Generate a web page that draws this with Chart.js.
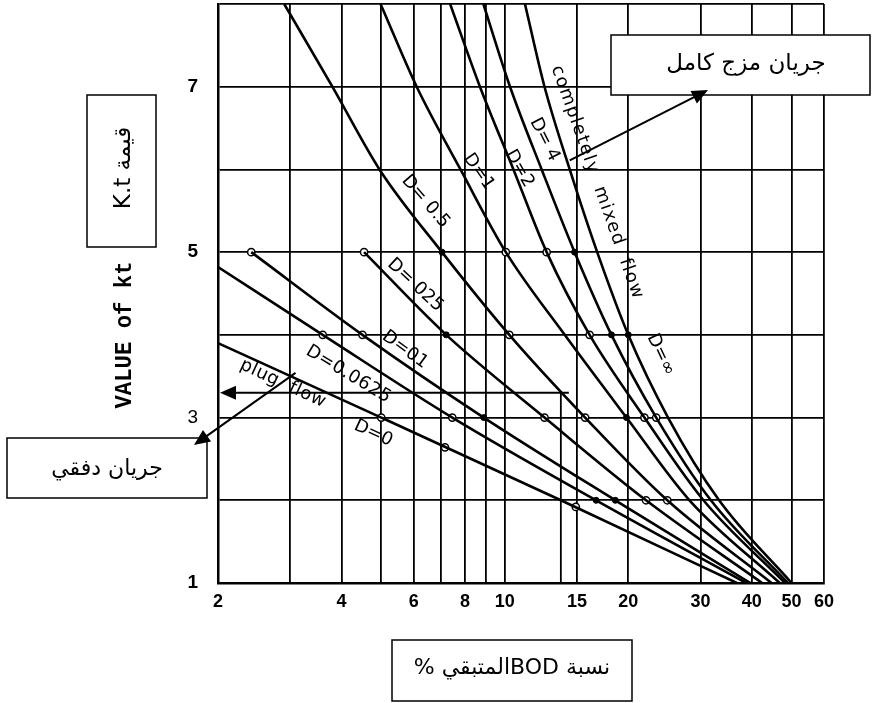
<!DOCTYPE html>
<html>
<head>
<meta charset="utf-8">
<script src="https://cdn.jsdelivr.net/npm/chart.js@4/dist/chart.umd.min.js"></script>
<style>
  html, body { margin: 0; padding: 0; background: #fff; }
  canvas { display: block; }
</style>
</head>
<body>
<canvas id="chart" width="876" height="703"></canvas>
<script>
// BOD remaining (%) on a log axis against kt, for dispersion numbers D = 0 ... infinity

// axis ticks
const xGridValues = [2, 3, 4, 5, 6, 7, 8, 9, 10, 15, 20, 30, 40, 50, 60];
const xTickLabels = [2, 4, 6, 8, 10, 15, 20, 30, 40, 50, 60];
const yTickLabels = [1, 3, 5, 7];

// series: kt values and the matching percent of BOD remaining
const seriesNames = ['D=0', 'D=0.0625', 'D=0.1', 'D=0.25', 'D=0.5', 'D=1', 'D=2', 'D=4', 'D=inf'];

const ktD0 = [3.9, 3, 2, 1];
const pctD0 = [2.0, 5.0, 13.7, 36.8];

const ktD00625 = [4.82, 4, 3, 2, 1];
const pctD00625 = [2.0, 3.6, 7.45, 16.7, 38.8];

const ktD01 = [5, 4, 3, 2, 1];
const pctD01 = [2.41, 4.5, 8.89, 18.6, 39.7];

const ktD025 = [5, 4, 3, 2, 1];
const pctD025 = [4.54, 7.2, 12.5, 22.1, 42.4];

const ktFull = [8, 7, 6, 5, 4, 3, 2, 1];
const pctD05 = [2.9, 3.8, 4.95, 7.03, 10.26, 15.7, 24.9, 44.7];
const pctD1 = [4.98, 6.1, 7.8, 10.06, 14.0, 19.8, 28.2, 46.8];
const pctD2 = [7.36, 8.7, 10.5, 12.65, 16.1, 21.9, 30.5, 48.2];
const pctD4 = [8.87, 10.3, 12.3, 14.8, 18.2, 23.4, 31.8, 49.0];
const pctMixed = [11.2, 12.5, 14.4, 16.8, 20.0, 25.0, 33.3, 50.0];

// computed points marked on the curves
const openMarkPct = [2.41, 4.54, 10.06, 12.65, 3.6, 4.5, 10.26, 16.1, 5.0, 7.45, 12.5, 15.7, 21.9, 23.4, 7.15, 14.9, 22.1, 24.9];
const openMarkKt  = [5, 5, 5, 5, 4, 4, 4, 4, 3, 3, 3, 3, 3, 3, 2.64, 1.92, 2, 2];
const solidMarkPct = [7.03, 14.8, 7.2, 18.2, 20.0, 8.89, 19.8, 16.7, 18.6];
const solidMarkKt  = [5, 5, 4, 4, 4, 3, 3, 2, 2];

// worked reading: percent remaining and kt
const readingPct = [13.7];
const readingKt = [3.3];

const curveSeries = [
  [ktD0, pctD0], [ktD00625, pctD00625], [ktD01, pctD01], [ktD025, pctD025],
  [ktFull, pctD05], [ktFull, pctD1], [ktFull, pctD2], [ktFull, pctD4], [ktFull, pctMixed]
];

const toPoints = (pct, kt) => pct.map((p, i) => ({ x: p, y: kt[i] }));

const datasets = curveSeries.map(([kt, pct], i) => ({
  label: seriesNames[i],
  data: toPoints(pct, kt),
  showLine: true,
  borderColor: '#000',
  borderWidth: 2.6,
  pointRadius: 0,
  fill: false,
  cubicInterpolationMode: 'monotone'
}));
datasets.push({
  label: 'open marks',
  data: toPoints(openMarkPct, openMarkKt),
  showLine: false,
  pointRadius: 3.6,
  pointBackgroundColor: '#fff',
  pointBorderColor: '#000',
  pointBorderWidth: 1.5
});
datasets.push({
  label: 'solid marks',
  data: toPoints(solidMarkPct, solidMarkKt),
  showLine: false,
  pointRadius: 3,
  pointBackgroundColor: '#000',
  pointBorderColor: '#000',
  pointBorderWidth: 1
});

// text written along the curves (anchor in data units, angle in degrees)
const curveLabels = [
  { text: 'plug  flow', at: [2.88, 3.41], angle: 25, spacing: 0.5 },
  { text: 'D=0', at: [4.78, 2.81], angle: 25, spacing: 0 },
  { text: 'D=0.0625', at: [4.16, 3.52], angle: 31, spacing: 0.5 },
  { text: 'D=01', at: [5.71, 3.82], angle: 36, spacing: 0 },
  { text: 'D= 025', at: [6.05, 4.60], angle: 43, spacing: 0 },
  { text: 'D= 0.5', at: [6.41, 5.61], angle: 49, spacing: 0 },
  { text: 'D=1', at: [8.64, 5.97], angle: 55, spacing: 0 },
  { text: 'D=2', at: [10.86, 6.01], angle: 60, spacing: 0 },
  { text: 'D= 4', at: [12.5, 6.36], angle: 63, spacing: 0 },
  { text: 'completely  mixed  flow', at: [16.8, 5.84], angle: 70.5, spacing: 1.4 },
  { text: 'D=\u221E', at: [24.0, 3.76], angle: 65, spacing: 0 }
];

function drawArrow(ctx, x1, y1, x2, y2, len, half) {
  const a = Math.atan2(y2 - y1, x2 - x1);
  ctx.beginPath();
  ctx.moveTo(x1, y1);
  ctx.lineTo(x2 - Math.cos(a) * len * 0.8, y2 - Math.sin(a) * len * 0.8);
  ctx.stroke();
  ctx.beginPath();
  ctx.moveTo(x2, y2);
  ctx.lineTo(x2 - Math.cos(a) * len + Math.sin(a) * half, y2 - Math.sin(a) * len - Math.cos(a) * half);
  ctx.lineTo(x2 - Math.cos(a) * len - Math.sin(a) * half, y2 - Math.sin(a) * len + Math.cos(a) * half);
  ctx.closePath();
  ctx.fill();
}

const curveTextPlugin = {
  id: 'curveText',
  afterDatasetsDraw(chart) {
    const { ctx, scales: { x, y } } = chart;
    ctx.save();
    ctx.fillStyle = '#000';
    ctx.font = '18px "DejaVu Sans", sans-serif';
    ctx.textAlign = 'center';
    ctx.textBaseline = 'middle';
    curveLabels.forEach(l => {
      ctx.save();
      ctx.letterSpacing = l.spacing + 'px';
      ctx.translate(x.getPixelForValue(l.at[0]), y.getPixelForValue(l.at[1]));
      ctx.rotate(l.angle * Math.PI / 180);
      ctx.fillText(l.text, 0, 0);
      ctx.restore();
    });

    // worked reading: up from the x axis, then across to the kt axis
    const rx = x.getPixelForValue(readingPct[0]);
    const ry = y.getPixelForValue(readingKt[0]);
    ctx.strokeStyle = '#000';
    ctx.lineWidth = 1.8;
    ctx.beginPath();
    ctx.moveTo(rx, y.getPixelForValue(1));
    ctx.lineTo(rx, ry);
    ctx.stroke();
    drawArrow(ctx, rx + 8, ry, x.getPixelForValue(2) + 2, ry, 16, 7);
    ctx.restore();
  }
};

const calloutPlugin = {
  id: 'callouts',
  afterDraw(chart) {
    const { ctx, scales: { x, y } } = chart;
    ctx.save();
    ctx.strokeStyle = '#000';
    ctx.fillStyle = '#000';

    // boxes with Arabic notes
    const box = (l, t, r, b) => {
      ctx.fillStyle = '#fff';
      ctx.fillRect(l, t, r - l, b - t);
      ctx.lineWidth = 1.5;
      ctx.strokeRect(l, t, r - l, b - t);
      ctx.fillStyle = '#000';
    };
    ctx.textAlign = 'center';
    ctx.textBaseline = 'middle';
    ctx.direction = 'rtl';

    box(611, 35, 870, 95);
    ctx.font = '23px "DejaVu Sans", sans-serif';
    ctx.fillText('جريان مزج كامل', 746, 64);

    box(7, 438, 207, 498);
    ctx.font = '22px "DejaVu Sans", sans-serif';
    ctx.fillText('جريان دفقي', 107, 469);

    box(392, 640, 632, 701);
    ctx.fillText('نسبة BODالمتبقي %', 512, 668);

    box(87, 95, 156, 247);
    ctx.save();
    ctx.translate(124, 168);
    ctx.rotate(-Math.PI / 2);
    ctx.font = '23px "DejaVu Sans", sans-serif';
    ctx.fillText('قيمة K.t', 0, 0);
    ctx.restore();

    // axis title
    ctx.direction = 'ltr';
    ctx.save();
    ctx.translate(125, 335);
    ctx.rotate(-Math.PI / 2);
    ctx.font = 'bold 24px "Courier New", "Liberation Mono", monospace';
    ctx.fillText('VALUE of kt', 0, 0, 147);
    ctx.restore();

    // pointers from the notes to the curves
    ctx.lineWidth = 2;
    drawArrow(ctx, x.getPixelForValue(14.4), y.getPixelForValue(6.11), 708, 90, 16, 7);
    drawArrow(ctx, x.getPixelForValue(3.09), y.getPixelForValue(3.54), 194, 445, 16, 7);
    ctx.restore();
  }
};

const tickFont = { family: '"Liberation Sans", Arial, sans-serif', size: 18, weight: 'bold' };

new Chart(document.getElementById('chart'), {
  type: 'scatter',
  data: { datasets },
  options: {
    responsive: false,
    animation: false,
    layout: { autoPadding: false, padding: { left: 0, right: 52, top: 4, bottom: 0 } },
    plugins: { legend: { display: false }, tooltip: { enabled: false } },
    scales: {
      x: {
        type: 'logarithmic',
        min: 2,
        max: 60,
        afterBuildTicks: s => { s.ticks = xGridValues.map(v => ({ value: v })); },
        afterFit: s => { s.height = 120; s.paddingLeft = 0; s.paddingRight = 0; },
        ticks: {
          autoSkip: false,
          maxRotation: 0,
          padding: 8,
          color: '#000',
          font: tickFont,
          callback: v => (xTickLabels.includes(v) ? String(v) : '')
        },
        grid: { color: '#000', lineWidth: 1.8, drawTicks: false },
        border: { display: true, color: '#000', width: 2.5 }
      },
      y: {
        type: 'linear',
        min: 1,
        max: 8,
        afterFit: s => { s.width = 218; s.paddingTop = 0; s.paddingBottom = 0; },
        ticks: {
          stepSize: 1,
          padding: 20,
          color: '#000',
          font: c => (c.tick && c.tick.value === 3
            ? { family: '"Liberation Sans", Arial, sans-serif', size: 19, weight: 'normal' }
            : { family: '"Liberation Sans", Arial, sans-serif', size: 19, weight: 'bold' }),
          callback: v => (yTickLabels.includes(v) ? String(v) : '')
        },
        grid: { color: '#000', lineWidth: 1.8, drawTicks: false },
        border: { display: true, color: '#000', width: 2.5 }
      }
    }
  },
  plugins: [curveTextPlugin, calloutPlugin]
});
</script>
</body>
</html>
